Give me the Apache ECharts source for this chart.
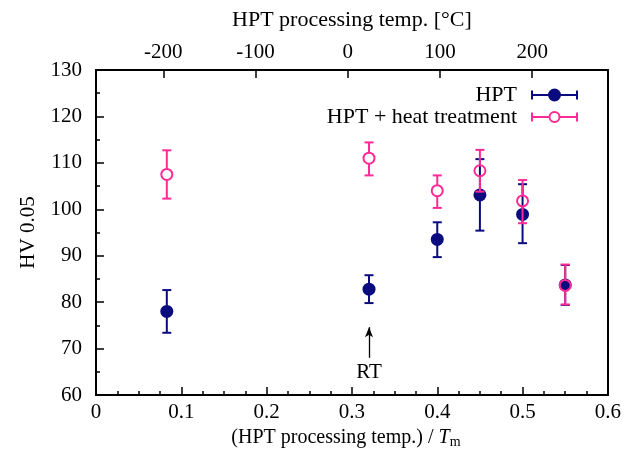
<!DOCTYPE html>
<html>
<head>
<meta charset="utf-8">
<script src="https://cdn.jsdelivr.net/npm/echarts@6/dist/echarts.min.js"></script>
<style>html,body{margin:0;padding:0;background:#fff;}#c{width:624px;height:461px;}</style>
</head>
<body>
<div id="c"></div>
<script>
// ---- data ----
const xVals = [0.083, 0.32, 0.40, 0.45, 0.50, 0.55];
const hptY = [78.0, 82.8, 93.5, 103.1, 98.9, 83.7];
const hptLow = [73.4, 79.8, 89.7, 95.4, 92.7, 79.4];
const hptHigh = [82.6, 85.8, 97.2, 110.8, 105.4, 88.0];
const heatY = [107.5, 111.0, 104.0, 108.3, 101.8, 83.6];
const heatLow = [102.3, 107.3, 100.3, 103.8, 97.0, 79.5];
const heatHigh = [112.7, 114.4, 107.3, 112.8, 106.3, 88.1];
const topTicks = [-200, -100, 0, 100, 200];
const meltK = 925;
const seriesNames = ['HPT', 'HPT + heat treatment'];
const rtX = 0.32;

const FONT = '"Liberation Serif", "Times New Roman", serif';
const NAVY = '#0b0b80';
const PINK = '#ff2a93';
const FS = 21;

function errData(ys, lo, hi) { return xVals.map((x, i) => [x, ys[i], lo[i], hi[i]]); }
function ptData(ys) { return xVals.map((x, i) => [x, ys[i]]); }

function errRender(color, gap) {
  return function (params, api) {
    const x = api.value(0), y = api.value(1), lo = api.value(2), hi = api.value(3);
    const pc = api.coord([x, y]);
    const pl = api.coord([x, lo]);
    const ph = api.coord([x, hi]);
    const h = 4.5;
    const st = { stroke: color, lineWidth: 2 };
    const kids = [
      { type: 'line', shape: { x1: pc[0], y1: ph[1], x2: pc[0], y2: pc[1] - gap }, style: st },
      { type: 'line', shape: { x1: pc[0], y1: pc[1] + gap, x2: pc[0], y2: pl[1] }, style: st },
      { type: 'line', shape: { x1: pc[0] - h, y1: ph[1], x2: pc[0] + h, y2: ph[1] }, style: st },
      { type: 'line', shape: { x1: pc[0] - h, y1: pl[1], x2: pc[0] + h, y2: pl[1] }, style: st }
    ];
    return { type: 'group', children: kids };
  };
}

const chart = echarts.init(document.getElementById('c'), null, { renderer: 'canvas' });

const axisLineStyle = { onZero: false, lineStyle: { color: '#000', width: 2 } };

function legendItem(y, text, color, filled) {
  return {
    type: 'group', children: [
      { type: 'text', x: 517, y: y, style: { text: text, font: '22px ' + FONT, fill: '#000', align: 'right', verticalAlign: 'middle' } },
      { type: 'line', shape: { x1: 532, y1: y, x2: 577, y2: y }, style: { stroke: color, lineWidth: 2 } },
      { type: 'line', shape: { x1: 532, y1: y - 4.5, x2: 532, y2: y + 4.5 }, style: { stroke: color, lineWidth: 2 } },
      { type: 'line', shape: { x1: 577, y1: y - 4.5, x2: 577, y2: y + 4.5 }, style: { stroke: color, lineWidth: 2 } },
      { type: 'circle', shape: { cx: 554.5, cy: y, r: filled ? 6.5 : 5 }, style: filled ? { fill: color } : { fill: '#fff', stroke: color, lineWidth: 2 } }
    ]
  };
}

chart.setOption({
  animation: false,
  backgroundColor: '#fff',
  grid: { left: 96, right: 15, top: 70, bottom: 66 },
  xAxis: [
    {
      type: 'value', position: 'bottom', min: 0, max: 0.6, interval: 0.1,
      name: '(HPT processing temp.) / {it|T}{sub|m}', nameLocation: 'middle', nameGap: 30,
      nameTextStyle: { fontFamily: FONT, fontSize: 20, color: '#000', padding: [0, 12, 0, 0],
        rich: { it: { fontFamily: FONT, fontSize: 20, fontStyle: 'italic', color: '#000' },
                sub: { fontFamily: FONT, fontSize: 14, color: '#000', verticalAlign: 'bottom', padding: [9, 0, 0, 0] } } },
      axisLine: axisLineStyle,
      axisTick: { inside: true, length: 8, lineStyle: { color: '#000', width: 1.5 } },
      minorTick: { show: true, splitNumber: 4, length: 4, lineStyle: { color: '#000', width: 1.5 } },
      axisLabel: { fontFamily: FONT, fontSize: FS, color: '#000', margin: 7,
        formatter: v => (v === 0 ? '0' : v.toFixed(1)) },
      splitLine: { show: false }
    },
    {
      type: 'value', position: 'top', min: -273, max: 0.6 * meltK - 273,
      name: 'HPT processing temp. [°C]', nameLocation: 'middle', nameGap: 39,
      nameTextStyle: { fontFamily: FONT, fontSize: 22, color: '#000' },
      axisLine: axisLineStyle,
      axisTick: { inside: true, length: 8, customValues: topTicks, lineStyle: { color: '#000', width: 1.5 } },
      axisLabel: { fontFamily: FONT, fontSize: FS, color: '#000', margin: 7, customValues: topTicks },
      splitLine: { show: false }
    }
  ],
  yAxis: [
    {
      type: 'value', position: 'left', min: 60, max: 130, interval: 10,
      name: 'HV 0.05', nameLocation: 'middle', nameGap: 57,
      nameTextStyle: { fontFamily: FONT, fontSize: FS, color: '#000' },
      axisLine: axisLineStyle,
      axisTick: { inside: true, length: 8, lineStyle: { color: '#000', width: 1.5 } },
      minorTick: { show: true, splitNumber: 2, length: 4, lineStyle: { color: '#000', width: 1.5 } },
      axisLabel: { fontFamily: FONT, fontSize: FS, color: '#000', margin: 14 },
      splitLine: { show: false }
    },
    {
      type: 'value', position: 'right', min: 60, max: 130,
      axisLine: { show: true, onZero: false, lineStyle: { color: '#000', width: 2 } },
      axisTick: { show: false }, axisLabel: { show: false }, splitLine: { show: false }
    }
  ],
  series: [
    {
      name: seriesNames[0] + ' err', type: 'custom', xAxisIndex: 0, yAxisIndex: 0,
      data: errData(hptY, hptLow, hptHigh), renderItem: errRender(NAVY, 0), z: 2, silent: true
    },
    {
      name: seriesNames[0], type: 'scatter', xAxisIndex: 0, yAxisIndex: 0,
      data: ptData(hptY), symbol: 'circle', symbolSize: 13, itemStyle: { color: NAVY, opacity: 1 }, z: 3,
      markLine: {
        silent: true, symbol: ['none', 'arrow'], symbolSize: [6, 10],
        lineStyle: { color: '#000', width: 1.3, type: 'solid' }, label: { show: false },
        data: [[{ coord: [rtX, 68] }, { coord: [rtX, 74.6] }]]
      },
      markPoint: {
        silent: true, symbol: 'circle', symbolSize: 0,
        label: { show: true, position: 'inside', formatter: 'RT', fontFamily: FONT, fontSize: FS, color: '#000' },
        data: [{ coord: [rtX, 64.9] }]
      }
    },
    {
      name: seriesNames[1] + ' err', type: 'custom', xAxisIndex: 0, yAxisIndex: 0,
      data: errData(heatY, heatLow, heatHigh), renderItem: errRender(PINK, 5), z: 4, silent: true
    },
    {
      name: seriesNames[1], type: 'scatter', xAxisIndex: 0, yAxisIndex: 0,
      data: ptData(heatY), symbol: 'circle', symbolSize: 11,
      itemStyle: { color: 'rgba(255,255,255,0)', borderColor: PINK, borderWidth: 2, opacity: 1 }, z: 5
    }
  ],
  graphic: [
    legendItem(95, seriesNames[0], NAVY, true),
    legendItem(117, seriesNames[1], PINK, false)
  ]
});
</script>
</body>
</html>
